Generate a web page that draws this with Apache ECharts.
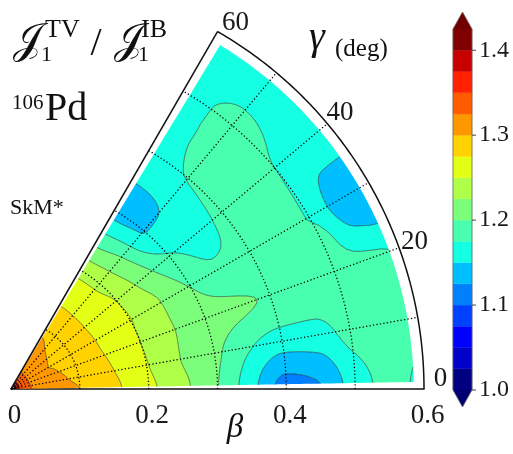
<!DOCTYPE html>
<html><head><meta charset="utf-8">
<script src="https://cdn.jsdelivr.net/npm/echarts@6/dist/echarts.min.js"></script>
<style>html,body{margin:0;padding:0;background:#fff}#c{width:513px;height:454px}</style>
</head><body><div id="c"></div>
<script>
// ---------------- data ----------------
const betaNodes  = [0, 0.01, 0.025, 0.05, 0.1, 0.15, 0.2, 0.25, 0.3, 0.35, 0.4, 0.45, 0.5, 0.55, 0.6];
const gammaNodes = [0, 10, 20, 25, 30, 40, 50, 60];
const ratioAtGamma0  = [1.70, 1.36, 1.328, 1.316, 1.300, 1.280, 1.256, 1.231, 1.201, 1.158, 1.117, 1.124, 1.163, 1.180, 1.165];
const ratioAtGamma10 = [1.70, 1.36, 1.328, 1.315, 1.294, 1.276, 1.2515, 1.225, 1.206, 1.178, 1.162, 1.165, 1.182, 1.185, 1.180];
const ratioAtGamma20 = [1.70, 1.36, 1.328, 1.310, 1.291, 1.273, 1.250, 1.226, 1.215, 1.205, 1.197, 1.190, 1.185, 1.180, 1.174];
const ratioAtGamma25 = [1.70, 1.36, 1.328, 1.308, 1.290, 1.272, 1.250, 1.226, 1.206, 1.193, 1.187, 1.185, 1.184, 1.152, 1.146];
const ratioAtGamma30 = [1.70, 1.36, 1.328, 1.306, 1.288, 1.272, 1.251, 1.226, 1.199, 1.180, 1.180, 1.180, 1.174, 1.138, 1.135];
const ratioAtGamma40 = [1.70, 1.36, 1.328, 1.308, 1.289, 1.271, 1.2495, 1.214, 1.178, 1.165, 1.180, 1.182, 1.175, 1.164, 1.163];
const ratioAtGamma50 = [1.70, 1.36, 1.328, 1.310, 1.292, 1.270, 1.243, 1.200, 1.149, 1.151, 1.176, 1.180, 1.180, 1.170, 1.162];
const ratioAtGamma60 = [1.70, 1.36, 1.328, 1.315, 1.295, 1.270, 1.242, 1.190, 1.145, 1.150, 1.165, 1.168, 1.168, 1.165, 1.165];

const contourLevels = [1.000, 1.025, 1.050, 1.075, 1.100, 1.125, 1.150, 1.175, 1.200,
                       1.225, 1.250, 1.275, 1.300, 1.325, 1.350, 1.375, 1.400, 1.425];
const extraLineLevels = [1.45, 1.50, 1.55, 1.60];
const bandColors = ['#000080','#0000c8','#0000ff','#0040ff','#0080ff','#00bfff','#15ffe2','#48ffaf',
                    '#7bff7b','#afff48','#e2ff15','#ffd200','#ff9700','#ff5c00','#ff2100','#c80000','#800000'];
const underColor = '#000070', overColor = '#700000';
const colorbarTicks = [1.0, 1.1, 1.2, 1.3, 1.4];
const gammaTicks = [0, 20, 40, 60];
const gridBetas = [0.1, 0.2, 0.3, 0.4, 0.5];
const gridGammas = [10, 20, 30, 40, 50];

// ---------------- interpolation (monotone cubic) ----------------
const rows = [ratioAtGamma0, ratioAtGamma10, ratioAtGamma20, ratioAtGamma25, ratioAtGamma30, ratioAtGamma40, ratioAtGamma50, ratioAtGamma60];
function endSlope(h0, h1, d0, d1) {
  let s = ((2*h0 + h1)*d0 - h0*d1)/(h0 + h1);
  if (Math.sign(s) !== Math.sign(d0)) s = 0;
  else if (Math.sign(d0) !== Math.sign(d1) && Math.abs(s) > Math.abs(3*d0)) s = 3*d0;
  return s;
}
function slopes(x, y, zeroEnds) {
  const n = x.length, h = [], d = [], m = new Array(n).fill(0);
  for (let i = 0; i < n-1; i++) { h[i] = x[i+1]-x[i]; d[i] = (y[i+1]-y[i])/h[i]; }
  for (let i = 1; i < n-1; i++) {
    if (d[i-1]*d[i] <= 0) m[i] = 0;
    else { const w1 = 2*h[i]+h[i-1], w2 = h[i]+2*h[i-1]; m[i] = (w1+w2)/(w1/d[i-1] + w2/d[i]); }
  }
  if (!zeroEnds) { m[0] = endSlope(h[0], h[1], d[0], d[1]); m[n-1] = endSlope(h[n-2], h[n-3], d[n-2], d[n-3]); }
  return m;
}
function herm(x, y, m, v) {
  let i = 0; while (i < x.length-2 && v > x[i+1]) i++;
  const h = x[i+1]-x[i], t = (v-x[i])/h, t2 = t*t, t3 = t2*t;
  return (2*t3-3*t2+1)*y[i] + (t3-2*t2+t)*h*m[i] + (-2*t3+3*t2)*y[i+1] + (t3-t2)*h*m[i+1];
}
const rowSlopes = rows.map(r => slopes(betaNodes, r, false));
function ratioAt(b, g) {
  const col = rows.map((r, j) => herm(betaNodes, r, rowSlopes[j], b));
  return herm(gammaNodes, col, slopes(gammaNodes, col, true), g);
}

const BMAX = 0.585, GMIN = 1.0, GMAX = 58.7, NG = 76;
const meshB = [];
for (let i = 0; i < 10; i++) meshB.push(0.0025*i);
for (let i = 0; i <= 85; i++) meshB.push(0.025 + (BMAX-0.025)*i/85);
const NB = meshB.length - 1;
const meshG = [];
for (let j = 0; j <= NG; j++) meshG.push(GMIN + (GMAX-GMIN)*j/NG);
const field = meshB.map(b => meshG.map(g => ratioAt(b, g)));

function clipPoly(poly, L, above) {
  const out = [];
  for (let k = 0; k < poly.length; k++) {
    const a = poly[k], c = poly[(k+1) % poly.length];
    const ia = above ? a[2] >= L : a[2] < L;
    const ic = above ? c[2] >= L : c[2] < L;
    if (ia) out.push(a);
    if (ia !== ic) { const t = (L-a[2])/(c[2]-a[2]); out.push([a[0]+t*(c[0]-a[0]), a[1]+t*(c[1]-a[1]), L]); }
  }
  return out;
}
const FONT = 'Liberation Serif';

function renderMain(params, api) {
  const o = api.coord([0, 0]), ex = api.coord([0.6, 0]), ey = api.coord([0, 0.5]);
  const sx = (ex[0]-o[0])/0.6, sy = (ey[1]-o[1])/0.5;
  const P = (b, g) => { const r = g*Math.PI/180; return [o[0]+sx*b*Math.cos(r), o[1]+sy*b*Math.sin(r)]; };
  const pts = [];
  for (let i = 0; i <= NB; i++) { const row = []; for (let j = 0; j <= NG; j++) { const p = P(meshB[i], meshG[j]); row.push([p[0], p[1], field[i][j]]); } pts.push(row); }
  const bandPaths = bandColors.map(() => []);
  const linePath = [];
  const lineLevels = contourLevels.concat(extraLineLevels);
  const f = p => p[0].toFixed(2) + ' ' + p[1].toFixed(2);
  function tri(T) {
    const v0 = T[0][2], v1 = T[1][2], v2 = T[2][2];
    const vmin = Math.min(v0, v1, v2), vmax = Math.max(v0, v1, v2);
    for (let k = 0; k < bandColors.length; k++) {
      const lo = contourLevels[k], hi = contourLevels[k+1];
      if (vmax < lo || vmin >= hi) continue;
      let poly = T;
      if (vmin < lo) poly = clipPoly(poly, lo, true);
      if (poly.length >= 3 && vmax >= hi) poly = clipPoly(poly, hi, false);
      if (poly.length >= 3) bandPaths[k].push('M' + poly.map(f).join('L') + 'Z');
    }
    for (const L of lineLevels) {
      if (!(vmin < L && vmax >= L)) continue;
      const cr = [];
      for (let e = 0; e < 3; e++) {
        const a = T[e], c = T[(e+1)%3];
        if ((a[2] >= L) !== (c[2] >= L)) { const t = (L-a[2])/(c[2]-a[2]); cr.push([a[0]+t*(c[0]-a[0]), a[1]+t*(c[1]-a[1])]); }
      }
      if (cr.length === 2) linePath.push('M' + f(cr[0]) + 'L' + f(cr[1]));
    }
  }
  for (let i = 0; i < NB; i++) for (let j = 0; j < NG; j++) {
    const A = pts[i][j], B = pts[i+1][j], C = pts[i+1][j+1], D = pts[i][j+1];
    tri([A, B, C]); tri([A, C, D]);
  }
  const children = [];
  bandPaths.forEach((arr, k) => { if (arr.length) children.push({type: 'path', shape: {pathData: arr.join('')}, style: {fill: bandColors[k], stroke: null}}); });
  children.push({type: 'path', shape: {pathData: linePath.join('')}, style: {fill: null, stroke: 'rgba(15,15,15,0.6)', lineWidth: 0.85}});
  const dot = {fill: null, stroke: '#000', lineWidth: 1.25, lineDash: [1.3, 2.2]};
  gridGammas.forEach(g => children.push({type: 'polyline', shape: {points: [P(0, g), P(0.6, g)]}, style: dot}));
  gridBetas.forEach(b => { const pp = []; for (let g = 0; g <= 60; g += 1) pp.push(P(b, g)); children.push({type: 'polyline', shape: {points: pp}, style: dot}); });
  const frame = {fill: null, stroke: '#111', lineWidth: 1.5};
  children.push({type: 'polyline', shape: {points: [P(0, 60), P(0.6, 60)]}, style: frame});
  const arc = []; for (let g = 0; g <= 60; g += 0.5) arc.push(P(0.6, g));
  children.push({type: 'polyline', shape: {points: arc}, style: frame});
  gammaTicks.forEach(g => {
    const p = P(0.624, Math.min(Math.max(g, 1.3), 58.5));
    children.push({type: 'text', x: p[0], y: p[1], style: {text: String(g), fontSize: 27, fontFamily: FONT, fill: '#1a1a1a',
      align: 'center', verticalAlign: 'middle', textAlign: 'center', textVerticalAlign: 'middle'}});
  });
  return {type: 'group', children};
}

function renderBar(params, api) {
  const children = [];
  for (let k = 0; k < bandColors.length; k++) {
    const p0 = api.coord([0, contourLevels[k]]), p1 = api.coord([1, contourLevels[k+1]]);
    children.push({type: 'rect', shape: {x: p0[0], y: p1[1], width: p1[0]-p0[0], height: p0[1]-p1[1]}, style: {fill: bandColors[k], stroke: bandColors[k], lineWidth: 0.4}});
  }
  const lo = contourLevels[0], hi = contourLevels[contourLevels.length-1], al = 0.02;
  const bl = api.coord([0, lo]), br = api.coord([1, lo]), bt = api.coord([0.5, lo-al]);
  const tl = api.coord([0, hi]), tr = api.coord([1, hi]), tt = api.coord([0.5, hi+al]);
  children.push({type: 'polygon', shape: {points: [bl, br, bt]}, style: {fill: underColor}});
  children.push({type: 'polygon', shape: {points: [tl, tr, tt]}, style: {fill: overColor}});
  children.push({type: 'polygon', shape: {points: [bl, bt, br, tr, tt, tl]}, style: {fill: null, stroke: '#666', lineWidth: 0.8}});
  colorbarTicks.forEach(t => { const p = api.coord([1, t]); children.push({type: 'line', shape: {x1: p[0], y1: p[1], x2: p[0]+4, y2: p[1]}, style: {stroke: '#444', lineWidth: 1}}); });
  return {type: 'group', children};
}

const txt = (x, y, text, size, extra) => Object.assign({type: 'text', x, y, silent: true,
  style: Object.assign({text, fontSize: size, fontFamily: FONT, fill: '#111', align: 'left', verticalAlign: 'middle',
    textAlign: 'left', textVerticalAlign: 'middle'}, extra || {})});

const chart = echarts.init(document.getElementById('c'));
chart.setOption({
  animation: false,
  backgroundColor: '#fff',
  grid: [
    {left: 11, top: 10.6, width: 413, height: 378.4},
    {left: 453, top: 29, width: 19, height: 361}
  ],
  xAxis: [
    {type: 'value', gridIndex: 0, min: 0, max: 0.6, interval: 0.2,
     axisLine: {show: true, lineStyle: {color: '#111', width: 1.6}}, axisTick: {show: false}, splitLine: {show: false},
     axisLabel: {fontSize: 27, fontFamily: FONT, color: '#1a1a1a', margin: 13, padding: [0, 0, 0, 7],
       formatter: v => v === 0 ? '0' : v.toFixed(1)}},
    {type: 'value', gridIndex: 1, min: 0, max: 1, show: false}
  ],
  yAxis: [
    {type: 'value', gridIndex: 0, min: 0, max: 0.55, show: false},
    {type: 'value', gridIndex: 1, min: 1.0, max: 1.425, interval: 0.1, position: 'right',
     axisLine: {show: false}, axisTick: {show: false}, splitLine: {show: false},
     axisLabel: {fontSize: 24, fontFamily: FONT, color: '#1a1a1a', margin: 7, padding: [5, 0, 0, 0],
       formatter: v => v > 1.41 ? '' : v.toFixed(1)}}
  ],
  series: [
    {type: 'custom', xAxisIndex: 0, yAxisIndex: 0, coordinateSystem: 'cartesian2d', clip: false, silent: true,
     renderItem: renderMain, data: [[0, 0]]},
    {type: 'custom', xAxisIndex: 1, yAxisIndex: 1, coordinateSystem: 'cartesian2d', clip: false, silent: true,
     renderItem: renderBar, data: [[0, 1.2]]}
  ],
  graphic: [
    txt(27, 42, '\u{1D4A5}', 42, {align: 'center', textAlign: 'center'}),
    txt(41, 55, '1', 22),
    txt(45, 30, 'TV', 26),
    txt(96, 44, '/', 40, {align: 'center', textAlign: 'center'}),
    txt(128, 42, '\u{1D4A5}', 42, {align: 'center', textAlign: 'center'}),
    txt(138, 55, '1', 22),
    txt(141, 30, 'IB', 26),
    txt(12, 103, '106', 21),
    txt(45, 109, 'Pd', 40),
    txt(10, 208, 'SkM*', 22),
    txt(309, 38, 'γ', 40, {fontStyle: 'italic'}),
    txt(335, 49, '(deg)', 25),
    txt(235, 428, 'β', 33, {fontStyle: 'italic', align: 'center', textAlign: 'center'})
  ]
});
</script></body></html>
